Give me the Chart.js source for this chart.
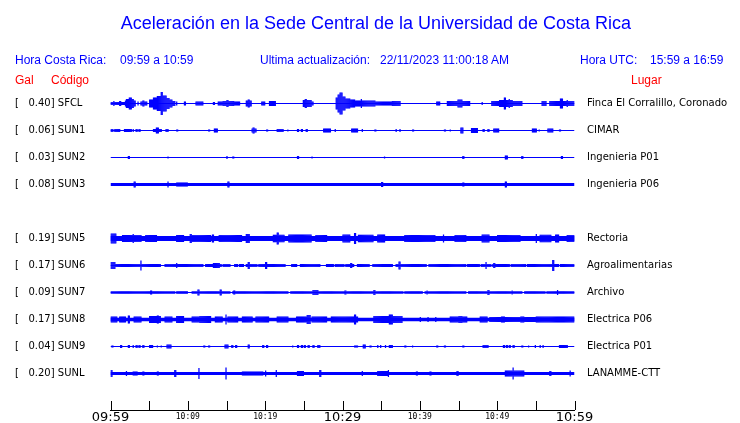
<!DOCTYPE html>
<html lang="es">
<head>
<meta charset="utf-8">
<title>Aceleración UCR</title>
<script src="https://cdn.jsdelivr.net/npm/chart.js@4.4.0/dist/chart.umd.min.js"></script>
<style>
    body { margin: 0; background: #fff; }
    #wrap { position: relative; width: 740px; height: 423px; }
    #sismo { position: absolute; left: 0; top: 0; }
    .txt { position: absolute; font-family: "Liberation Sans", Arial, sans-serif; font-size: 12px; line-height: 14px; white-space: pre; color: #0000ff; }
    .red { color: #ff0000; }
    #titulo { position: absolute; left: 0; width: 752px; top: 13px; text-align: center; font-family: "Liberation Sans", Arial, sans-serif; font-size: 18px; line-height: 20px; color: #0000ff; }
</style>
</head>
<body>
<div id="wrap">
    <canvas id="sismo" width="740" height="423"></canvas>
    <div id="titulo">Aceleración en la Sede Central de la Universidad de Costa Rica</div>
    <span class="txt" style="left:15px;top:53px">Hora Costa Rica:</span>
    <span class="txt" style="left:120px;top:53px">09:59 a 10:59</span>
    <span class="txt" style="left:260px;top:53px">Ultima actualización:</span>
    <span class="txt" style="left:380px;top:53px">22/11/2023 11:00:18 AM</span>
    <span class="txt" style="left:580px;top:53px">Hora UTC:</span>
    <span class="txt" style="left:650px;top:53px">15:59 a 16:59</span>
    <span class="txt red" style="left:15px;top:73px">Gal</span>
    <span class="txt red" style="left:51px;top:73px">Código</span>
    <span class="txt red" style="left:631px;top:73px">Lugar</span>
</div>

<script>
/* ======================================
   DATA (minutes after 09:59)
====================================== */
const timeLabels = ["09:59", "", "10:09", "", "10:19", "", "10:29", "", "10:39", "", "10:49", "", "10:59"];

const stationCodes = ["SFCL", "SUN1", "SUN2", "SUN3", "SUN4", "SUN5", "SUN6", "SUN7", "SUN8", "SUN9", "SUNL"];
const peakGal      = [0.40, 0.06, 0.03, 0.08, null, 0.19, 0.17, 0.09, 0.17, 0.04, 0.20];
const places       = ["Finca El Corralillo, Coronado", "CIMAR", "Ingenieria P01", "Ingenieria P06", "",
                      "Rectoria", "Agroalimentarias", "Archivo", "Electrica P06", "Electrica P01", "LANAMME-CTT"];

// resting trace thickness of every station (trace units)
const noiseFloor = [1, 1, 1, 3, 0, 5, 1, 1, 3.5, 1, 3];

// bursts: [start min, end min, half amplitude]
const sfclBursts = [
    [0, 1.9, 1.5], [0.4, 0.5, 2.5], [1.2, 1.3, 2.5], [1.9, 3.2, 3], [2.1, 3.0, 4.5], [2.4, 2.7, 6],
    [3.5, 3.6, 2], [3.9, 4.7, 2], [4.2, 4.3, 3],
    [5.0, 8.3, 2.5], [5.1, 5.6, 4], [5.6, 6.0, 6], [6.0, 6.5, 7.5], [6.5, 6.7, 11.5], [6.7, 7.2, 8],
    [7.2, 7.6, 5.5], [7.6, 8.0, 4],
    [8.5, 8.6, 2], [9.6, 9.75, 2], [11.1, 12.0, 2], [13.3, 13.4, 1.5], [13.9, 16.7, 2], [14.6, 16.0, 2.5],
    [15.1, 15.2, 3.5], [17.6, 18.2, 3], [17.8, 17.9, 4], [19.5, 20.0, 2], [20.6, 21.3, 2.5],
    [24.9, 26.2, 2], [24.9, 25.9, 3.5], [25.2, 25.3, 4.5],
    [29.2, 29.4, 6], [29.4, 29.7, 9], [29.7, 29.9, 11], [29.9, 30.3, 7], [30.3, 31.0, 5], [31.0, 31.6, 4],
    [31.6, 34.2, 3], [32.4, 32.5, 4.5], [34.2, 37.4, 2], [36.4, 37.4, 2.5],
    [42.2, 42.6, 2], [43.5, 46.5, 2.5], [44.9, 45.4, 4], [48.0, 48.1, 1.5],
    [49.3, 53.2, 2.5], [50.3, 52.0, 3.5], [50.9, 51.1, 6], [51.5, 51.6, 4.5],
    [55.8, 56.3, 2.5], [56.8, 60, 2.5], [58.2, 58.4, 5], [59.0, 59.1, 3.5]
];
const sun1Bursts = [
    [0, 0.3, 1.5], [0.6, 1.2, 1.5], [1.85, 2.7, 1.5], [2.9, 3.0, 1.5], [3.3, 3.4, 1.5], [3.7, 3.8, 1.5],
    [5.5, 6.6, 1.5], [5.9, 6.2, 3], [7.15, 7.4, 1.5], [8.6, 8.7, 1], [12.7, 12.8, 1], [13.4, 13.8, 2],
    [18.3, 18.8, 2], [18.4, 18.6, 3], [20.2, 20.3, 1], [21.5, 22.3, 1.5], [22.9, 23.0, 1],
    [24.2, 24.3, 1.5], [24.7, 24.8, 1.5], [25.3, 25.4, 1.5], [27.6, 28.4, 2], [29.0, 29.1, 1.5],
    [31.2, 31.9, 2], [32.5, 32.6, 1.5], [34.2, 34.3, 1], [36.9, 37.0, 1.5], [37.4, 37.5, 1.5], [39.1, 39.2, 1],
    [43.2, 43.3, 1], [43.9, 44.0, 1], [45.3, 45.6, 3], [46.7, 47.4, 2.5], [48.2, 48.3, 1.5], [48.8, 48.9, 1.5],
    [49.5, 50.2, 2], [54.5, 55.1, 2], [55.4, 55.5, 1], [56.6, 57.2, 2], [58.1, 58.2, 1]
];
const sun2Bursts = [
    [2.25, 2.5, 1.5], [7.4, 7.5, 1], [15.0, 15.1, 1.5], [15.8, 15.9, 1], [24.2, 24.3, 1.5], [26.0, 26.1, 1],
    [35.4, 35.5, 1], [45.6, 45.7, 1.5], [51.1, 51.3, 2], [53.2, 53.3, 1.5], [58.3, 58.4, 1.5]
];
const sun3Bursts = [
    [3.05, 3.15, 3], [7.4, 7.5, 3], [8.6, 9.9, 2], [15.2, 15.3, 3], [35.1, 35.2, 2.5], [45.6, 45.7, 2], [51.1, 51.2, 3]
];
const sun4Bursts = [];
const sun5Bursts = [
    [0, 0.7, 5], [1.5, 4, 3.5], [2.9, 3.0, 4.5], [4.5, 6, 3.5], [8.5, 9.5, 3.5], [10.3, 10.4, 4.5],
    [10.5, 13, 3.5], [13.2, 13.3, 4], [14, 17, 3.5], [17.5, 18, 4.5], [21, 22.5, 3.8], [21.6, 21.7, 6],
    [23, 26, 4], [26.5, 28, 3.5], [30, 31, 4], [31.6, 31.7, 5.5], [32, 34, 3.8], [34.5, 35.5, 4],
    [38, 42, 3.5], [43, 43.1, 4], [44.5, 46, 3.5], [48, 49, 4], [50, 53, 3.5], [55, 55.1, 4.5],
    [55.5, 57, 3.8], [57.5, 58, 4], [59, 60, 3.5]
];
const sun6Bursts = [
    [0, 6.4, 1.4], [7.05, 7.4, 1.4], [7.6, 12.0, 1.4], [12.3, 14.3, 1.4], [14.6, 15.45, 1.4], [16.1, 16.5, 1.4],
    [16.7, 17.2, 1.4], [17.6, 18.9, 1.4], [19.2, 22.6, 1.4], [23.4, 24.1, 1.4], [24.5, 27.1, 1.4], [27.95, 28.8, 1.4],
    [29.0, 30.2, 1.4], [30.4, 31.5, 1.4], [31.9, 33.5, 1.4], [33.9, 36.5, 1.4], [36.9, 38.4, 1.4], [38.6, 40.8, 1.4],
    [41.2, 43.4, 1.4], [43.6, 46.0, 1.4], [46.2, 47.7, 1.4], [47.9, 49.2, 1.4], [49.4, 51.6, 1.4], [51.8, 53.7, 1.4],
    [53.9, 55.9, 1.4], [56.1, 58.0, 1.4], [58.2, 58.9, 1.4], [59.1, 60, 1.4],
    [0.1, 0.6, 3.5], [3.9, 4.0, 5], [8.5, 8.6, 2.5], [13.3, 14.1, 2.5], [17.8, 18.0, 3.5], [20.1, 20.2, 3.5],
    [31.1, 31.2, 2.5], [37.3, 37.4, 4], [48.5, 48.6, 3.5], [49.6, 49.7, 2.5], [57.2, 57.3, 5.5]
];
const sun7Bursts = [
    [0, 8.3, 1.3], [8.6, 10.0, 1.3], [10.5, 15.5, 1.3], [15.8, 23, 1.3], [23.3, 37.8, 1.3], [38.1, 40.3, 1.3],
    [40.7, 46.0, 1.3], [46.3, 53.2, 1.3], [53.6, 56.2, 1.3], [56.4, 60, 1.3],
    [5.2, 5.3, 2], [11.3, 11.4, 3], [14.2, 14.3, 3], [15.95, 16.05, 2], [26.2, 26.8, 2.5], [30.3, 30.4, 2],
    [34.1, 34.2, 2.5], [40.9, 41.0, 2], [48.8, 48.9, 2.5], [51.9, 52.0, 2], [57.75, 57.85, 2.5]
];
const sun8Bursts = [
    [0, 0.8, 3], [1.2, 2.0, 3], [2.3, 2.45, 4], [3.0, 4.0, 3], [5.0, 6.5, 3.5], [6.0, 6.15, 4], [7.0, 8.0, 3],
    [8.5, 9.5, 3.5], [10.5, 11.5, 3], [11.6, 12.9, 3.5], [13.5, 14.5, 3], [14.9, 15.0, 5], [15.2, 16.5, 3],
    [17.0, 18.3, 3], [18.8, 20.5, 3], [21.5, 23.0, 3], [24.0, 25.3, 3], [25.4, 25.8, 4.5], [26.0, 28.0, 3],
    [28.5, 30.0, 3], [29.7, 31.9, 3], [31.6, 31.7, 5], [34.0, 37.7, 3.5], [36.1, 36.5, 5],
    [40.0, 40.1, 2.5], [41.0, 41.1, 2.5], [42.0, 42.1, 2.5], [43.9, 46.1, 3], [45.0, 45.4, 3.5],
    [47.8, 48.7, 3], [49.0, 55.1, 2.5], [50.5, 51.0, 3], [53.0, 53.5, 3], [55.1, 60, 3]
];
const sun9Bursts = [
    [0.2, 0.3, 1], [1.36, 1.45, 1.5], [2.3, 2.5, 1.5], [2.9, 3.0, 1.5], [3.3, 3.4, 1.5], [3.7, 3.8, 1.5],
    [4.2, 4.3, 1.5], [5.0, 5.5, 1.5], [6.0, 6.1, 1], [6.5, 6.6, 1], [7.3, 7.8, 2], [12.1, 12.2, 1], [12.7, 12.8, 1],
    [14.8, 15.2, 2], [15.7, 15.8, 1.5], [16.2, 16.3, 1.5], [17.8, 18.0, 2], [19.7, 19.8, 1.5], [20.2, 20.3, 1.5],
    [23.5, 23.6, 1], [24.2, 24.3, 1.5], [24.7, 24.8, 1.5], [25.1, 25.2, 1.5], [25.6, 25.7, 1.5], [26.2, 26.3, 1.5],
    [26.8, 27.1, 1.5], [31.6, 31.9, 1], [32.7, 32.9, 2], [33.6, 33.7, 1], [34.5, 34.6, 1.5], [34.9, 35.0, 1.5],
    [35.5, 35.6, 1.5], [36.1, 36.5, 1.5], [38.1, 38.2, 1], [39.0, 39.1, 1], [42.2, 42.3, 1], [43.2, 43.3, 1],
    [45.6, 45.7, 1], [48.2, 48.8, 1.5], [50.8, 50.9, 1.5], [51.2, 51.3, 1.5], [51.6, 51.7, 1.5], [52.1, 52.2, 1.5],
    [53.2, 53.3, 1], [54.0, 54.1, 1], [54.9, 55.0, 1.5], [55.5, 55.6, 1.5], [55.9, 56.0, 1.5], [58.1, 59.1, 1.5]
];
const sunlBursts = [
    [0, 0.2, 3.5], [2.0, 2.1, 2.5], [2.9, 3.4, 2], [4.2, 4.3, 2], [6.1, 6.2, 2], [8.3, 8.4, 3.5],
    [11.4, 11.5, 5.5], [14.9, 15.0, 6], [17.1, 19.7, 2], [20.0, 20.1, 3], [21.4, 21.5, 3.5], [24.2, 24.9, 2.5],
    [27.1, 27.2, 3.5], [32.5, 32.6, 2.5], [34.6, 35.9, 2.5], [35.9, 36.0, 3.5], [39.6, 39.7, 2], [41.3, 41.4, 2],
    [44.8, 44.9, 2.5], [51.0, 53.5, 3], [52.0, 52.1, 6], [56.8, 56.9, 2.5], [59.4, 59.5, 3]
];

const allBursts = [sfclBursts, sun1Bursts, sun2Bursts, sun3Bursts, sun4Bursts, sun5Bursts,
                   sun6Bursts, sun7Bursts, sun8Bursts, sun9Bursts, sunlBursts];


/* ======================================
   LAYOUT CONSTANTS
====================================== */
const BLUE = "#0000ff";
const ROW_PX = 27;           // pixels per station row
const BIN = 0.125;           // minutes per drawn bar
const TOTAL_MIN = 60;
const LABEL_FONT = { family: "'DejaVu Sans'", size: 10 };


/* ======================================
   BUILD DATASETS
====================================== */
function envelopeBars(bursts, row) {
    const amp = new Map();
    bursts.forEach(([t0, t1, a]) => {
        const i0 = Math.floor(t0 / BIN);
        const i1 = Math.max(i0 + 1, Math.ceil(t1 / BIN));
        for (let i = i0; i < i1 && i < TOTAL_MIN / BIN; i++) {
            amp.set(i, Math.max(amp.get(i) || 0, a));
        }
    });
    return [...amp].map(([i, a]) => ({
        x: (i + 0.5) * BIN,
        y: [row - a / ROW_PX, row + a / ROW_PX]
    }));
}

const datasets = [];
stationCodes.forEach((code, row) => {
    if (peakGal[row] === null) return;
    datasets.push({
        type: "line",
        label: code,
        data: [{ x: 0, y: row }, { x: TOTAL_MIN, y: row }],
        borderColor: BLUE,
        borderWidth: noiseFloor[row],
        pointRadius: 0
    });
    datasets.push({
        type: "bar",
        label: code + " burst",
        data: envelopeBars(allBursts[row], row),
        backgroundColor: BLUE,
        borderWidth: 0
    });
});


/* ======================================
   TICK MARKS POINTING UP FROM TIME AXIS
====================================== */
const upTicks = {
    id: "upTicks",
    afterDraw(chart) {
        const xs = chart.scales.x;
        const ctx = chart.ctx;
        ctx.save();
        ctx.strokeStyle = "#000";
        ctx.lineWidth = 1;
        xs.ticks.forEach(t => {
            const px = Math.round(xs.getPixelForValue(t.value)) + 0.5;
            ctx.beginPath();
            ctx.moveTo(px, xs.top);
            ctx.lineTo(px, xs.top - 9);
            ctx.stroke();
        });
        ctx.restore();
    }
};


/* ======================================
   CHART
====================================== */
const rowTicks = s => { s.ticks = stationCodes.map((_, i) => ({ value: i })); };
const fixWidth = w => s => { s.width = w; s.paddingTop = 0; s.paddingBottom = 0; };
const yMax = -0.5 + 320 / ROW_PX;

new Chart(document.getElementById("sismo"), {
    type: "bar",
    data: { datasets },
    plugins: [upTicks],
    options: {
        responsive: false,
        animation: false,
        devicePixelRatio: 1,
        layout: { padding: { top: 90, left: 15, right: 0, bottom: 0 } },
        plugins: { legend: { display: false }, tooltip: { enabled: false } },
        datasets: { bar: { grouped: false, barPercentage: 1.3, categoryPercentage: 1 } },
        scales: {
            x: {
                type: "linear",
                min: 0,
                max: TOTAL_MIN,
                offset: false,
                afterFit: s => { s.height = 13; s.paddingLeft = 0; s.paddingRight = 0; },
                grid: { display: false, drawTicks: false },
                border: { display: true, color: "#000", width: 1 },
                ticks: {
                    stepSize: 5,
                    autoSkip: false,
                    maxRotation: 0,
                    padding: 0,
                    color: "#000",
                    font: c => (c.tick && c.tick.value % 30 === 0)
                        ? { family: "'DejaVu Sans'", size: 13, lineHeight: 1.1 }
                        : { family: "'DejaVu Sans Mono'", size: 8, lineHeight: 1.75 },
                    callback: v => timeLabels[Math.round(v / 5)]
                }
            },
            y: {
                type: "linear",
                position: "left",
                reverse: true,
                min: -0.5,
                max: yMax,
                afterFit: fixWidth(95.5),
                afterBuildTicks: rowTicks,
                grid: { display: false, drawTicks: false },
                border: { display: false },
                ticks: {
                    crossAlign: "far",
                    color: "#000",
                    font: LABEL_FONT,
                    callback: v => peakGal[v] === null || peakGal[v] === undefined
                        ? "" : "[   " + peakGal[v].toFixed(2) + "] " + stationCodes[v]
                }
            },
            y2: {
                type: "linear",
                position: "right",
                reverse: true,
                min: -0.5,
                max: yMax,
                afterFit: fixWidth(165.5),
                afterBuildTicks: rowTicks,
                grid: { display: false, drawTicks: false },
                border: { display: false },
                ticks: {
                    crossAlign: "near",
                    padding: 12.5,
                    color: "#000",
                    font: LABEL_FONT,
                    callback: v => places[v] || ""
                }
            }
        }
    }
});
</script>
</body>
</html>
